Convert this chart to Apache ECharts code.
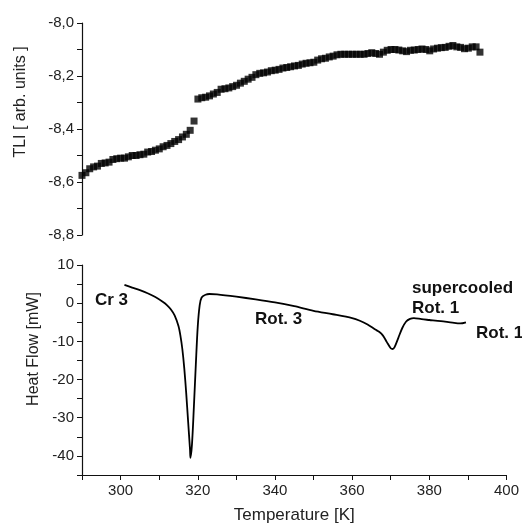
<!DOCTYPE html>
<html>
<head>
<meta charset="utf-8">
<script src="https://cdn.jsdelivr.net/npm/echarts@6/dist/echarts.min.js"></script>
<style>
html,body{margin:0;padding:0;background:#fff;}
#main{width:522px;height:525px;}
</style>
</head>
<body>
<div id="main"></div>
<script>
// TLI (top panel), square markers
var tliTemp = [290,291,292,293,294,295,296,297,298,299,300,301,302,303,304,305,306,307,308,309,
    310,311,312,313,314,315,316,317,318,319,320,321,322,323,324,325,326,327,328,329,
    330,331,332,333,334,335,336,337,338,339,340,341,342,343,344,345,346,347,348,349,
    350,351,352,353,354,355,356,357,358,359,360,361,362,363,364,365,366,367,368,369,
    370,371,372,373,374,375,376,377,378,379,380,381,382,383,384,385,386,387,388,389,
    390,391,392,393];
var tliValue = [-8.575,-8.565,-8.550,-8.543,-8.540,-8.530,-8.528,-8.525,-8.515,-8.512,
    -8.510,-8.510,-8.505,-8.500,-8.500,-8.497,-8.495,-8.487,-8.485,-8.480,
    -8.475,-8.467,-8.462,-8.455,-8.447,-8.440,-8.430,-8.420,-8.405,-8.370,
    -8.287,-8.282,-8.280,-8.275,-8.268,-8.262,-8.250,-8.248,-8.245,-8.240,
    -8.235,-8.227,-8.220,-8.212,-8.205,-8.195,-8.190,-8.188,-8.185,-8.180,
    -8.178,-8.175,-8.170,-8.168,-8.165,-8.162,-8.160,-8.155,-8.152,-8.150,
    -8.148,-8.140,-8.135,-8.133,-8.128,-8.125,-8.120,-8.118,-8.118,-8.118,
    -8.118,-8.118,-8.118,-8.118,-8.115,-8.112,-8.115,-8.118,-8.110,-8.103,
    -8.100,-8.100,-8.102,-8.105,-8.108,-8.103,-8.102,-8.100,-8.098,-8.100,
    -8.105,-8.098,-8.095,-8.093,-8.092,-8.088,-8.085,-8.090,-8.092,-8.097,
    -8.095,-8.090,-8.090,-8.110];

// DSC heat flow (bottom panel)
var hfTemp = [301,303,305,307,309,311,312,313,314,315,315.5,316,316.5,317,317.5,318,318.1,318.5,319,319.5,
    320,320.5,321,322,323,325,330,335,340,345,350,355,360,362,364,366,367,368,369,370,
    370.5,371,372,373,374,375,376,378,380,383,386,388,389.5];
var hfValue = [4.8,4.1,3.4,2.6,1.6,0.3,-0.5,-1.6,-3.2,-6.0,-8.5,-12,-17,-23.5,-31,-38.5,-40.5,-37,-27,-16,
    -6,-0.5,1.5,2.2,2.4,2.3,1.7,1.0,0.2,-0.8,-2.0,-2.9,-3.9,-4.6,-5.6,-6.9,-7.5,-8.5,-10.2,-11.8,
    -12.0,-11.5,-9.0,-6.5,-4.8,-4.1,-3.9,-4.2,-4.4,-4.7,-5.1,-5.3,-5.0];

var phaseLabels = ['Cr 3', 'Rot. 3', 'supercooled\nRot. 1', 'Rot. 1'];

var tliData = tliTemp.map(function (t, i) { return [t, tliValue[i]]; });
var hfData = hfTemp.map(function (t, i) { return [t, hfValue[i]]; });

var fontFam = '"Liberation Sans", Arial, sans-serif';
var axisCol = '#111';
var tickLbl = { color: '#222', fontSize: 15, fontFamily: fontFam };
var phaseStyle = { fill: '#111', fontSize: 17, fontWeight: 'bold', fontFamily: fontFam };

var chart = echarts.init(document.getElementById('main'));
chart.setOption({
    backgroundColor: '#fff',
    animation: false,
    grid: [
        { left: 82, right: 15, top: 23, height: 212 },
        { left: 82, right: 15, top: 265, height: 213 }
    ],
    xAxis: [
        { gridIndex: 0, type: 'value', min: 290, max: 400, show: false },
        {
            gridIndex: 1, type: 'value', min: 290, max: 400, interval: 10,
            name: 'Temperature [K]', nameLocation: 'middle', nameGap: 32,
            nameTextStyle: { color: '#222', fontSize: 17, fontFamily: fontFam },
            axisLine: { show: true, onZero: false, lineStyle: { color: axisCol, width: 1.2 } },
            axisTick: { show: true, inside: false, length: 5, lineStyle: { color: axisCol } },
            axisLabel: Object.assign({
                margin: 8,
                formatter: function (v) { return v % 20 === 0 ? String(v) : ''; }
            }, tickLbl),
            splitLine: { show: false }
        }
    ],
    yAxis: [
        {
            gridIndex: 0, type: 'value', min: -8.8, max: -8.0, interval: 0.1,
            axisLine: { show: true, onZero: false, lineStyle: { color: axisCol, width: 1.2 } },
            axisTick: { show: true, inside: false, length: 5, lineStyle: { color: axisCol } },
            axisLabel: Object.assign({
                margin: 8,
                formatter: function (v) {
                    var k = Math.round(v * 10);
                    return k % 2 === 0 ? v.toFixed(1).replace('.', ',') : '';
                }
            }, tickLbl),
            splitLine: { show: false }
        },
        {
            gridIndex: 1, type: 'value', min: -45, max: 10, interval: 5,
            axisLine: { show: true, onZero: false, lineStyle: { color: axisCol, width: 1.2 } },
            axisTick: { show: true, inside: false, length: 5, lineStyle: { color: axisCol } },
            axisLabel: Object.assign({
                margin: 8,
                formatter: function (v) { return v % 10 === 0 ? String(v) : ''; }
            }, tickLbl),
            splitLine: { show: false }
        }
    ],
    graphic: [
        { type: 'text', x: 21, y: 102, rotation: Math.PI / 2,
          style: { text: 'TLI [ arb. units ]', fill: '#222', fontSize: 16, fontFamily: fontFam, align: 'center', verticalAlign: 'middle' } },
        { type: 'text', x: 34, y: 349, rotation: Math.PI / 2,
          style: { text: 'Heat Flow [mW]', fill: '#222', fontSize: 16, fontFamily: fontFam, align: 'center', verticalAlign: 'middle' } },
        { type: 'text', x: 95, y: 300,
          style: Object.assign({ text: phaseLabels[0], verticalAlign: 'middle' }, phaseStyle) },
        { type: 'text', x: 255, y: 319,
          style: Object.assign({ text: phaseLabels[1], verticalAlign: 'middle' }, phaseStyle) },
        { type: 'text', x: 412, y: 278,
          style: Object.assign({ text: phaseLabels[2], lineHeight: 20 }, phaseStyle) },
        { type: 'text', x: 476, y: 333,
          style: Object.assign({ text: phaseLabels[3], verticalAlign: 'middle' }, phaseStyle) }
    ],
    series: [
        {
            type: 'scatter', xAxisIndex: 0, yAxisIndex: 0,
            data: tliData, symbol: 'rect', symbolSize: 7,
            itemStyle: { color: '#000' }
        },
        {
            type: 'line', xAxisIndex: 1, yAxisIndex: 1,
            data: hfData, showSymbol: false, smooth: 0.3,
            lineStyle: { color: '#000', width: 1.8 }
        }
    ]
});
</script>
</body>
</html>
